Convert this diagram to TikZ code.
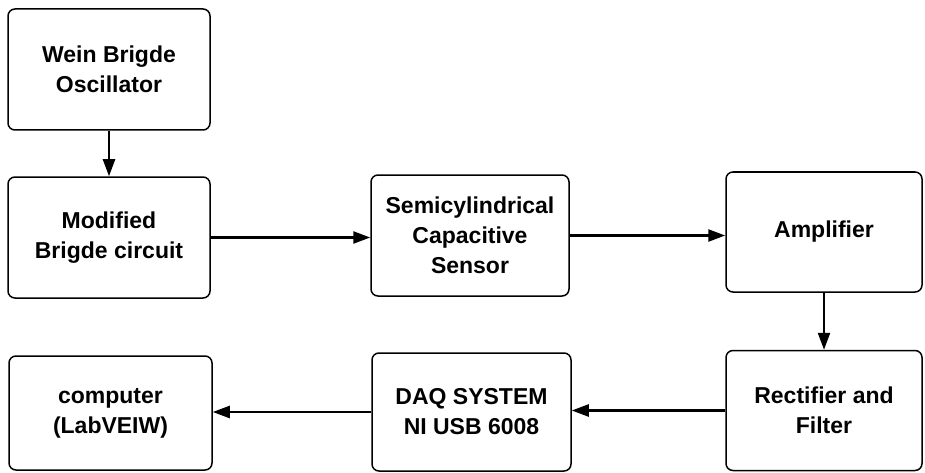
\documentclass[tikz,border=0pt]{standalone}
\usepackage{fontspec}
\setmainfont{Liberation Sans}
\usetikzlibrary{arrows.meta}
\begin{document}
\begin{tikzpicture}[x=1pt,y=-1pt,
  blockbox/.style={draw=black, line width=1.5pt, rounded corners=7pt, align=center,
    inner sep=0pt, font=\fontsize{23}{30}\selectfont\bfseries},
  flow/.style={draw=black, line width=2.4pt, -{Triangle[length=17pt,width=12pt]}}]
\useasboundingbox (0,0) rectangle (925,473);
\node[blockbox, minimum width=202pt, minimum height=121pt] (b1) at (109,69.5) {Wein Brigde\\Oscillator};
\node[blockbox, minimum width=202pt, minimum height=121pt] (b2) at (109,237.5) {Modified\\Brigde circuit};
\node[blockbox, minimum width=198pt, minimum height=121pt] (b3) at (470,235.5) {Semicylindrical\\Capacitive\\Sensor};
\node[blockbox, minimum width=196pt, minimum height=120pt] (b4) at (824,232) {Amplifier};
\node[blockbox, minimum width=196pt, minimum height=120pt] (b5) at (824,410.5) {Rectifier and\\Filter};
\node[blockbox, minimum width=199pt, minimum height=118pt] (b6) at (471.5,412) {DAQ SYSTEM\\NI USB 6008};
\node[blockbox, minimum width=203pt, minimum height=114pt] (b7) at (110.5,413) {computer\\(LabVEIW)};
\draw[flow] (b1.south) -- (b2.north);
\draw[flow] (b2.east) -- (b3.west |- b2.east);
\draw[flow] (b3.east) -- (b4.west |- b3.east);
\draw[flow] (b4.south) -- (b5.north);
\draw[flow] (b5.west) -- (b6.east |- b5.west);
\draw[flow] (b6.west) -- (b7.east |- b6.west);
\end{tikzpicture}
\end{document}
